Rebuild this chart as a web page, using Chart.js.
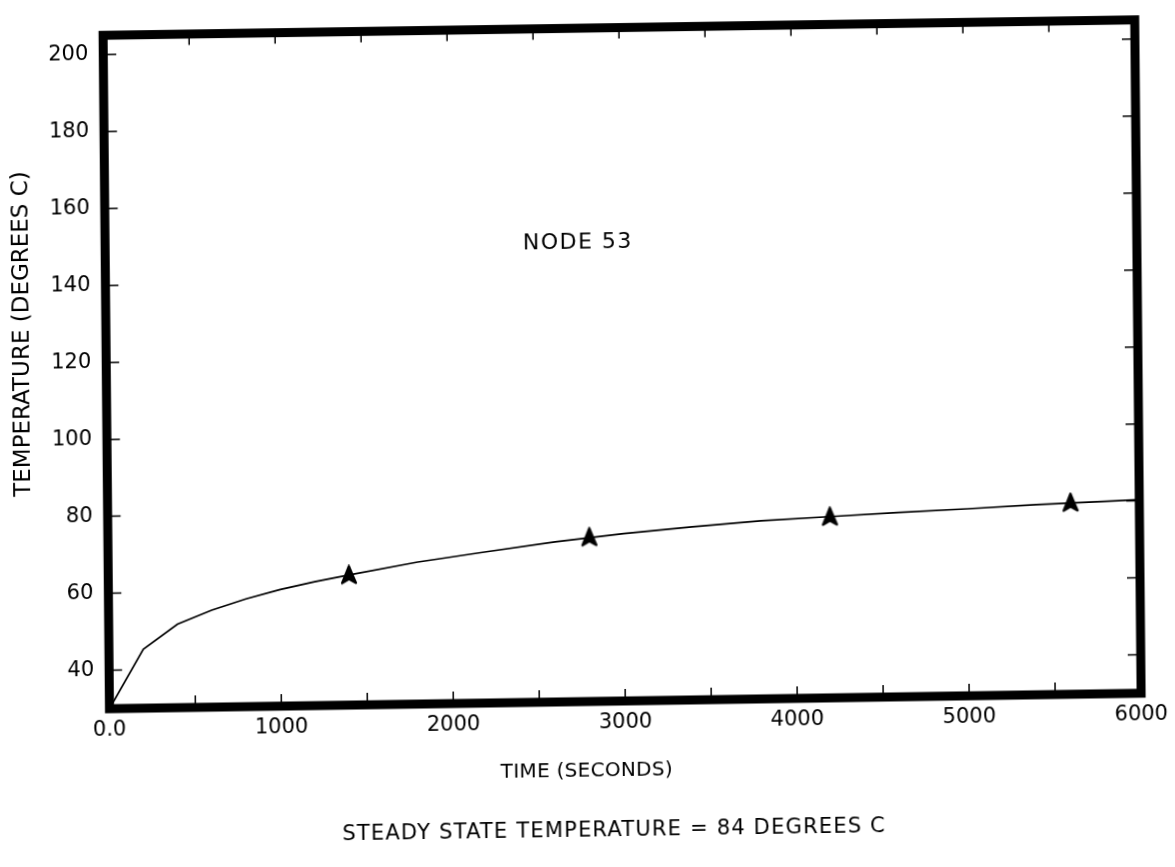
<!DOCTYPE html>
<html>
<head>
<meta charset="utf-8">
<script src="https://cdn.jsdelivr.net/npm/chart.js@4.4.1/dist/chart.umd.min.js"></script>
<style>
  html, body { margin: 0; padding: 0; background: #fff; }
  /* the scanned original sits slightly askew */
  #wrap { position: absolute; left: 0; top: 0; width: 1175px; height: 867px;
    transform-origin: 622px 360px; transform: matrix(1, -0.015, 0.0095, 1, 0, 0); }
</style>
</head>
<body>
<div id="wrap"><canvas id="c" width="1175" height="867"></canvas></div>
<script>
const timeSec = [0, 200, 400, 600, 800, 1000, 1200, 1400, 1800, 2200, 2600, 3000, 3400, 3800, 4200, 4600, 5000, 5400, 5800, 6000];
const tempC   = [30, 45.3, 51.7, 55.2, 58.0, 60.3, 62.2, 63.8, 66.9, 69.3, 71.6, 73.5, 75.0, 76.3, 77.1, 77.9, 78.6, 79.4, 80.0, 80.3];
const markTime = [1400, 2800, 4200, 5600];
const markTemp = [63.8, 72.7, 77.1, 79.8];
const xTicks = [0, 500, 1000, 1500, 2000, 2500, 3000, 3500, 4000, 4500, 5000, 5500, 6000];
const yTicks = [40, 60, 80, 100, 120, 140, 160, 180, 200];
const xTitle = 'TIME (SECONDS)';
const yTitle = 'TEMPERATURE (DEGREES C)';
const nodeLabel = 'NODE 53';
const footNote = 'STEADY STATE TEMPERATURE = 84 DEGREES C';

Chart.defaults.font.family = '"DejaVu Sans", sans-serif';
Chart.defaults.color = '#000';

// the "A" shaped plot symbol
const sym = document.createElement('canvas');
sym.width = 18; sym.height = 21;
{
  const g = sym.getContext('2d');
  g.fillStyle = '#000'; g.strokeStyle = '#000';
  g.lineWidth = 2.2; g.lineJoin = 'round';
  g.beginPath();
  g.moveTo(9, 1.5);
  g.quadraticCurveTo(11.5, 8, 16, 18.5);
  g.lineTo(9, 14.5);
  g.lineTo(2, 18.5);
  g.quadraticCurveTo(6.5, 8, 9, 1.5);
  g.closePath(); g.fill(); g.stroke();
}

const framePlugin = {
  id: 'frame',
  afterDraw(chart) {
    const { ctx, chartArea: a, scales: { x, y } } = chart;
    ctx.save();
    ctx.strokeStyle = '#000';
    ctx.lineWidth = 1.5;
    ctx.beginPath();
    xTicks.slice(1, -1).forEach(v => {
      const px = x.getPixelForValue(v);
      ctx.moveTo(px, a.bottom); ctx.lineTo(px, a.bottom - 12);
      ctx.moveTo(px, a.top); ctx.lineTo(px, a.top + 11);
    });
    yTicks.forEach(v => {
      const py = y.getPixelForValue(v);
      ctx.moveTo(a.left, py); ctx.lineTo(a.left + 13, py);
      ctx.moveTo(a.right, py); ctx.lineTo(a.right - 13, py);
    });
    ctx.stroke();
    ctx.lineWidth = 9;
    ctx.strokeRect(a.left, a.top, a.width, a.height);

    ctx.fillStyle = '#000';
    ctx.textBaseline = 'middle';
    ctx.textAlign = 'center';
    ctx.font = '22px "DejaVu Sans"';
    ctx.letterSpacing = '1.5px';
    ctx.fillText(nodeLabel, 579, 242);
    ctx.font = '20px "DejaVu Sans"';
    ctx.letterSpacing = '0.3px';
    ctx.fillText(xTitle, 583, 771);
    ctx.textAlign = 'left';
    ctx.font = '21px "DejaVu Sans"';
    ctx.letterSpacing = '1.2px';
    ctx.fillText(footNote, 338, 831);
    ctx.letterSpacing = '0px';
    ctx.translate(23, 325);
    ctx.rotate(-Math.PI / 2);
    ctx.textAlign = 'center';
    ctx.font = '23px "DejaVu Sans"';
    ctx.fillText(yTitle, 0, 0);
    ctx.restore();
  }
};

new Chart(document.getElementById('c'), {
  type: 'scatter',
  data: {
    datasets: [{
      data: timeSec.map((t, i) => ({ x: t, y: tempC[i] })),
      showLine: true,
      borderColor: '#000',
      borderWidth: 1.7,
      pointRadius: 0,
      tension: 0,
      order: 2,
    }, {
      data: markTime.map((t, i) => ({ x: t, y: markTemp[i] })),
      showLine: false,
      pointStyle: sym,
      order: 1,
    }],
  },
  options: {
    responsive: false,
    animation: false,
    layout: { padding: { top: 18.5, right: 37, left: 0, bottom: 0 } },
    plugins: { legend: { display: false }, tooltip: { enabled: false } },
    scales: {
      x: {
        type: 'linear', min: 0, max: 6000,
        grid: { display: false, drawTicks: false },
        border: { display: false },
        afterBuildTicks: s => { s.ticks = xTicks.map(v => ({ value: v })); },
        afterFit: s => { s.height = 166; },
        ticks: {
          autoSkip: false, maxRotation: 0, padding: 9,
          font: { size: 21 },
          callback: v => v % 1000 !== 0 ? '' : (v === 0 ? '0.0' : String(v)),
        },
      },
      y: {
        type: 'linear', min: 30, max: 205,
        grid: { display: false, drawTicks: false },
        border: { display: false },
        afterBuildTicks: s => { s.ticks = yTicks.map(v => ({ value: v })); },
        afterFit: s => { s.width = 106.25; },
        ticks: { padding: 15, font: { size: 21 } },
      },
    },
  },
  plugins: [framePlugin],
});
</script>
</body>
</html>
